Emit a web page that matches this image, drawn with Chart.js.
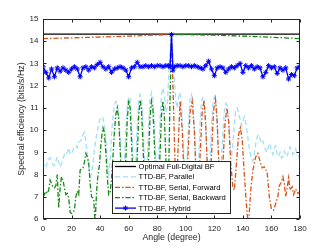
<!DOCTYPE html>
<html><head><meta charset="utf-8">
<script src="https://cdn.jsdelivr.net/npm/chart.js@4.4.0/dist/chart.umd.min.js"></script>
<style>html,body{margin:0;padding:0;background:#fff;overflow:hidden}canvas{display:block}</style>
</head><body>
<canvas id="c" width="332" height="246" style="width:332px;height:246px"></canvas>
<script>
// ---- data ----
const xTickValues = [0,20,40,60,80,100,120,140,160,180];
const yTickValues = [6,7,8,9,10,11,12,13,14,15];

const optimalAngles = [0, 180];
const optimalValues = [14.32, 14.32];

const parallelAngles = [0,1,2,3,4,5,6,7,8,9,10,11,12,13,14,15,16,17,18,19,20,21,22,23,24,25,26,27,28,29,30,31,32,33,34,35,36,37,38,39,40,41,42,43,44,45,46,47,48,49,50,51,52,53,54,55,56,57,58,59,60,61,62,63,64,65,66,67,68,69,70,71,72,73,74,75,76,77,78,79,80,81,82,83,84,85,86,87,88,89,90,91,92,93,94,95,96,97,98,99,100,101,102,103,104,105,106,107,108,109,110,111,112,113,114,115,116,117,118,119,120,121,122,123,124,125,126,127,128,129,130,131,132,133,134,135,136,137,138,139,140,141,142,143,144,145,146,147,148,149,150,151,152,153,154,155,156,157,158,159,160,161,162,163,164,165,166,167,168,169,170,171,172,173,174,175,176,177,178,179,180];
const parallelValues = [8.6,8.35,8.3,8.55,8.7,8.75,8.6,8.45,8.4,8.6,8.8,8.55,8.35,8.5,8.7,8.9,8.85,9.0,9.2,8.95,8.9,9.1,9.25,9.3,9.2,9.45,9.5,9.6,9.8,9.9,9.5,8.9,8.3,7.9,8.0,8.5,9.1,9.6,9.9,10.3,10.5,10.6,10.55,10.2,9.6,8.6,8.0,8.6,9.8,10.6,11.1,11.3,11.2,10.7,9.6,8.2,7.4,8.4,10.0,11.1,11.5,11.4,10.4,8.8,7.5,8.5,10.2,11.3,11.6,11.4,10.3,8.7,7.5,8.6,10.3,11.4,11.7,11.5,10.3,8.7,7.6,8.8,10.5,11.6,11.9,11.6,10.8,11.0,12.4,13.4,14.3,13.4,12.3,11.3,11.0,11.5,11.7,11.2,9.8,8.2,7.5,8.7,10.4,11.4,11.6,11.3,10.0,8.4,7.5,8.6,10.3,11.3,11.5,11.3,10.1,8.5,7.6,8.6,10.2,11.2,11.5,11.3,10.2,8.7,7.8,8.6,9.9,10.8,11.2,11.1,10.4,9.5,8.8,9.4,10.3,10.9,11.0,10.8,10.5,10.2,10.4,10.6,10.3,9.9,9.4,9.0,8.7,8.6,8.9,9.4,9.7,9.8,9.6,9.4,9.5,9.3,9.1,9.0,9.3,9.4,9.05,8.9,9.2,9.3,8.9,8.8,9.0,8.75,8.8,9.05,8.9,8.8,9.1,9.25,9.1,8.9,9.0,9.15,8.9,8.8,8.85];

const forwardAngles = [0,30,60,89,90,91,92.5,93.5,94.5,96,97.5,99,100,101.5,103,104.5,106,107.5,108.5,110,111.5,112.8,114,115.5,116.5,118,119.5,120.8,122,123.5,124.5,126,127.5,128.8,130,131.5,133,134,135.5,137,138.2,139.5,141,143,144,145.5,147,149,150.5,152,153.5,155,157,158.5,160,161.5,163,164.5,165.5,166.5,168,169,170,171,172,173,174.5,175.5,177,178.5,180];
const forwardValues = [14.12,14.17,14.23,14.3,14.3,12.0,8.5,7.2,9.0,11.3,10.0,7.5,7.0,8.8,10.8,11.3,10.0,7.5,7.0,8.8,10.8,11.35,10.2,7.6,7.0,8.8,10.9,11.4,10.4,7.8,7.0,8.5,10.3,11.0,10.4,8.5,7.4,7.3,8.5,9.8,10.1,9.6,8.0,6.2,5.8,7.3,8.2,8.8,8.95,8.6,8.3,8.35,8.1,7.0,6.45,6.4,6.7,7.0,7.5,7.6,7.9,7.6,7.0,7.4,7.85,7.3,7.45,7.1,7.35,7.15,7.25];

const backwardAngles = [0,1,2,3,4,5,6,7,8,9,10,10.5,11,12,13,14,15,16,17,18,19,20,21,22,23,24,25,26,27,28,29,30,31,32,33,34,35,35.5,36.5,37.5,38.5,39.5,40.5,41.5,42,43,44,45,46,47,48,49,50,51,52,53,54,55,56,57,58,59,60,61,62,63,64,65,66,67,68,69,70,71,72,73,74,75,76,77,78,79,80,81,82,83,84,85,86,87,88,89,90,100,120,140,160,180];
const backwardValues = [7.2,7.1,7.25,7.15,7.3,7.75,7.6,7.45,7.4,7.5,8.0,7.2,6.5,7.4,7.9,7.75,7.4,7.1,7.15,6.95,6.3,6.25,6.3,6.4,7.0,7.25,7.1,8.2,8.25,8.3,8.55,8.95,8.8,8.55,7.6,7.0,6.95,6.9,5.8,7.2,8.0,8.4,9.3,9.9,10.1,9.9,9.0,7.9,7.1,7.2,7.8,8.8,9.9,10.7,11.0,10.5,9.2,7.8,7.0,7.1,8.6,10.4,11.35,11.0,9.5,7.8,7.0,7.3,8.8,10.6,11.35,10.9,9.4,7.7,7.0,7.3,8.8,10.6,11.3,10.9,9.4,7.7,7.0,7.4,9.0,10.7,11.3,10.6,8.8,7.2,8.0,11.5,14.3,14.3,14.27,14.23,14.18,14.12];

const hybridAngles = [0,2,4,6,8,10,12,14,16,18,20,22,24,26,28,30,32,34,36,38,40,42,44,46,48,50,52,54,56,58,60,62,64,66,68,70,72,74,76,78,80,82,84,86,88,89,90,91,92,94,96,98,100,102,104,106,108,110,112,114,116,118,120,122,124,126,128,130,132,134,136,138,140,142,144,146,148,150,152,154,156,158,160,162,164,166,168,170,172,174,176,178,180];
const hybridValues = [12.85,12.6,12.35,12.75,12.4,12.8,12.65,12.8,12.7,12.6,12.75,12.85,12.75,12.4,12.8,12.85,12.7,12.85,12.8,12.95,13.05,12.85,12.75,12.85,12.6,12.75,12.8,12.85,12.8,12.7,12.4,12.8,12.85,13.05,12.85,12.85,12.9,12.85,12.9,12.85,12.9,12.9,12.85,12.9,12.9,12.85,14.3,12.7,12.85,12.9,12.9,12.85,12.9,12.9,12.85,12.9,12.85,12.8,12.75,12.9,13.1,12.75,12.45,12.8,12.85,12.8,12.6,12.75,12.85,12.8,12.9,13.0,12.6,12.9,12.8,12.9,12.75,12.85,12.8,12.4,12.6,12.9,12.8,12.85,12.55,12.8,12.7,12.8,12.3,12.5,12.45,12.8,12.85];

const seriesNames = ['Optimal Full-Digital BF','TTD-BF, Parallel','TTD-BF, Serial, Forward','TTD-BF, Serial, Backward','TTD-BF, Hybrid'];

// ---- build ----
const pts = (a, v) => a.map((x, i) => ({x: x, y: v[i]}));
const FONT = "'Liberation Sans', Arial, Helvetica, sans-serif";
const styles = {
  optimal: {color:'#000000', dash:[], width:1.3},
  parallel: {color:'#a3def5', dash:[5,3], width:1.3},
  forward: {color:'#D95319', dash:[5,2,1.5,2], width:1.3},
  backward: {color:'#138a13', dash:[5,2,1.5,2], width:1.3},
  hybrid: {color:'#0000ff', dash:[], width:1.3}
};
const legendKeys = ['optimal','parallel','forward','backward','hybrid'];

const framePlugin = {
  id: 'frame',
  afterDatasetsDraw(chart) {
    const {ctx, chartArea: {left, right, top, bottom}, scales: {x, y}} = chart;
    ctx.save();
    ctx.strokeStyle = '#262626';
    ctx.lineWidth = 1;
    ctx.setLineDash([]);
    const L = Math.round(left) + 0.5, R = Math.round(right) - 0.5, T = Math.round(top) + 0.5, B = Math.round(bottom) - 0.5;
    ctx.strokeRect(L, T, R - L, B - T);
    ctx.beginPath();
    xTickValues.forEach(v => {
      const p = Math.round(x.getPixelForValue(v)) + 0.5;
      ctx.moveTo(p, B); ctx.lineTo(p, B - 3);
      ctx.moveTo(p, T); ctx.lineTo(p, T + 3);
    });
    yTickValues.forEach(v => {
      const p = Math.round(y.getPixelForValue(v)) + 0.5;
      ctx.moveTo(L, p); ctx.lineTo(L + 3, p);
      ctx.moveTo(R, p); ctx.lineTo(R - 3, p);
    });
    ctx.stroke();
    // legend
    const lx = 112.5, ly = 161.5, lw = 118, lh = 52;
    ctx.fillStyle = '#ffffff';
    ctx.fillRect(lx, ly, lw, lh);
    ctx.strokeStyle = '#262626';
    ctx.strokeRect(lx, ly, lw, lh);
    ctx.font = '7.6px ' + FONT;
    ctx.textBaseline = 'middle';
    ctx.textAlign = 'left';
    legendKeys.forEach((k, i) => {
      const s = styles[k];
      const yy = 166.5 + i * 10.4;
      ctx.strokeStyle = s.color;
      ctx.lineWidth = s.width;
      ctx.setLineDash(s.dash);
      ctx.beginPath(); ctx.moveTo(115, yy); ctx.lineTo(136, yy); ctx.stroke();
      ctx.setLineDash([]);
      if (k === 'hybrid') {
        ctx.lineWidth = 1;
        const cx = 125.5, r = 2.5;
        ctx.beginPath();
        ctx.moveTo(cx - r, yy); ctx.lineTo(cx + r, yy);
        ctx.moveTo(cx, yy - r); ctx.lineTo(cx, yy + r);
        ctx.moveTo(cx - r*0.7, yy - r*0.7); ctx.lineTo(cx + r*0.7, yy + r*0.7);
        ctx.moveTo(cx - r*0.7, yy + r*0.7); ctx.lineTo(cx + r*0.7, yy - r*0.7);
        ctx.stroke();
      }
      ctx.fillStyle = '#000000';
      ctx.fillText(seriesNames[i], 138.5, yy + 0.5);
    });
    ctx.restore();
  }
};

const mk = (key, a, v, label, extra) => Object.assign({
  label: label,
  data: pts(a, v),
  borderColor: styles[key].color,
  backgroundColor: styles[key].color,
  borderWidth: styles[key].width,
  borderDash: styles[key].dash,
  pointRadius: 0,
  tension: 0,
  fill: false
}, extra || {});

new Chart(document.getElementById('c'), {
  type: 'line',
  data: {
    datasets: [
      mk('hybrid', hybridAngles, hybridValues, seriesNames[4], {pointStyle: 'star', pointRadius: 2.6, pointBorderWidth: 1, pointBorderColor: '#0000ff'}),
      mk('backward', backwardAngles, backwardValues, seriesNames[3]),
      mk('forward', forwardAngles, forwardValues, seriesNames[2]),
      mk('parallel', parallelAngles, parallelValues, seriesNames[1]),
      mk('optimal', optimalAngles, optimalValues, seriesNames[0])
    ]
  },
  options: {
    responsive: false,
    animation: false,
    events: [],
    layout: {padding: {left: 0, right: 32, top: 19, bottom: 0}},
    plugins: {legend: {display: false}, tooltip: {enabled: false}},
    scales: {
      x: {
        type: 'linear', min: 0, max: 180,
        afterFit: s => { s.height = 27; },
        afterBuildTicks: s => { s.ticks = xTickValues.map(v => ({value: v})); },
        grid: {display: false, drawTicks: false},
        border: {display: false},
        ticks: {padding: 5, color: '#262626', font: {family: FONT, size: 8}, maxRotation: 0, autoSkip: false},
        title: {display: true, text: 'Angle (degree)', color: '#262626', font: {family: FONT, size: 8.8}, padding: {top: 0, bottom: 3}}
      },
      y: {
        min: 6, max: 15,
        afterFit: s => { s.width = 43; },
        afterBuildTicks: s => { s.ticks = yTickValues.map(v => ({value: v})); },
        grid: {display: false, drawTicks: false},
        border: {display: false},
        ticks: {padding: 4.5, color: '#262626', font: {family: FONT, size: 8}, autoSkip: false},
        title: {display: true, text: 'Spectral efficiency (bits/s/Hz)', color: '#262626', font: {family: FONT, size: 8.8}, padding: {top: 16, bottom: 0}}
      }
    }
  },
  plugins: [framePlugin]
});
</script>
</body></html>
